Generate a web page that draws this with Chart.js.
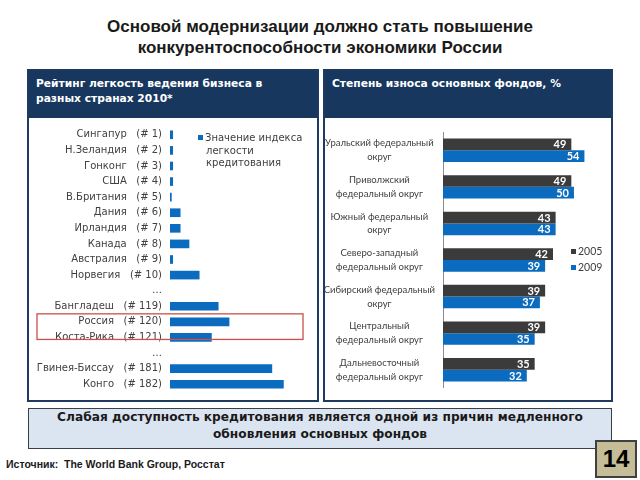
<!DOCTYPE html>
<html>
<head>
<meta charset="utf-8">
<script src="https://cdn.jsdelivr.net/npm/chart.js@4.4.0/dist/chart.umd.min.js"></script>
<style>
body{margin:0;width:640px;height:480px;position:relative;background:#fff;overflow:hidden;font-family:"Liberation Sans",Arial,sans-serif}
.abs{position:absolute;box-sizing:border-box}
#title{left:0;top:16px;width:640px;text-align:center;font-weight:bold;font-size:17px;line-height:21px;color:#1a1a1a}
.panel{top:69px;height:333px;border:2px solid #1f3a60;background:#fff}
.head{left:0;top:0;right:0;height:47px;background:#17375e;color:#fff;font:bold 10.7px "DejaVu Sans";line-height:15px;padding:5px 0 0 7px}
#bottom{left:28px;top:408px;width:584px;height:41px;background:#dbe5f1;border:1.5px solid #3a3f4a;text-align:center;font:bold 12.2px "DejaVu Sans";line-height:17px;color:#1a1a1a}
#src{left:6px;top:458px;font-weight:bold;font-size:10.5px;color:#1a1a1a}
#page{left:595px;top:440px;width:42px;height:38px;background:#c4bd97;border:2px solid #404040;font:bold 24px "Liberation Sans";text-align:center;line-height:34px;color:#000}
.leg{font:10px "DejaVu Sans";color:#404040;line-height:12.5px}
.mk{display:inline-block;width:5px;height:5px;margin-right:2px;vertical-align:1px}
canvas{position:absolute}
</style>
</head>
<body>
<div id="title" class="abs">Основой модернизации должно стать повышение<br>конкурентоспособности экономики России</div>

<div class="abs panel" style="left:27px;width:292px"><div class="abs head">Рейтинг легкость ведения бизнеса в<br>разных странах 2010*</div></div>
<div class="abs panel" style="left:323px;width:290px"><div class="abs head">Степень износа основных фондов, %</div></div>

<canvas id="left" width="286" height="265" style="left:30px;top:127px"></canvas>
<canvas id="right" width="283" height="256" style="left:325px;top:132px"></canvas>

<div class="abs leg" style="left:198px;top:132px;width:110px"><span class="mk" style="background:#0b6cbf;margin-left:0"></span>Значение индекса<br><span style="padding-left:8px">легкости</span><br><span style="padding-left:8px">кредитования</span></div>
<div class="abs leg" style="left:571px;top:243px;font-family:Lato;font-size:10.5px;line-height:16px"><span class="mk" style="background:#3b3b3b"></span>2005<br><span class="mk" style="background:#0b6cbf"></span>2009</div>

<div id="bottom" class="abs">Слабая доступность кредитования является одной из причин медленного<br>обновления основных фондов</div>
<div id="src" class="abs">Источник:&nbsp; The World Bank Group, Росстат</div>
<div id="page" class="abs">14</div>

<script>
// left chart: ease of doing business rank and credit index value
var countries = ["Сингапур", "Н.Зеландия", "Гонконг", "США", "В.Британия", "Дания", "Ирландия", "Канада", "Австралия", "Норвегия", "…", "Бангладеш", "Россия", "Коста-Рика", "…", "Гвинея-Биссау", "Конго"];
var ranks = [1, 2, 3, 4, 5, 6, 7, 8, 9, 10, null, 119, 120, 121, null, 181, 182];
var creditValues = [4, 4, 4, 4, 2, 15, 15, 28, 4, 43, null, 71, 87, 61, null, 150, 167];

// right chart: depreciation of fixed assets by federal district, %
var districts = [
    ["Уральский федеральный", "округ"],
    ["Приволжский", "федеральный округ"],
    ["Южный федеральный", "округ"],
    ["Северо-западный", "федеральный округ"],
    ["Сибирский федеральный", "округ"],
    ["Центральный", "федеральный округ"],
    ["Дальневосточный", "федеральный округ"]
];
var wear2005 = [49, 49, 43, 42, 39, 39, 35];
var wear2009 = [54, 50, 43, 39, 37, 35, 32];

var blue = "#0b6cbf";
var dark = "#3b3b3b";

var leftLabels = countries.map(function (c, i) {
    return ranks[i] === null ? c : c + "   (# " + ranks[i] + ")";
});

// y axis with fixed width and no label overhang padding
function fixedAxis(w) {
    return function (s) {
        s.width = w;
        s.paddingTop = 0;
        s.paddingBottom = 0;
    };
}

// red frame around Russia
var redBox = {
    id: "redBox",
    afterDraw: function (chart) {
        var y = chart.scales.y;
        var top = y.getPixelForValue(12) - 8;
        var bottom = y.getPixelForValue(13) + 2;
        var ctx = chart.ctx;
        ctx.save();
        ctx.strokeStyle = "#c9504b";
        ctx.lineWidth = 1.3;
        ctx.strokeRect(7, top, 266, bottom - top);
        ctx.restore();
    }
};

new Chart(document.getElementById("left").getContext("2d"), {
    type: "bar",
    data: {
        labels: leftLabels,
        datasets: [{
            label: "Значение индекса легкости кредитования",
            data: creditValues,
            backgroundColor: blue,
            barThickness: 8
        }]
    },
    options: {
        indexAxis: "y",
        responsive: false,
        animation: false,
        layout: { padding: 0 },
        plugins: { legend: { display: false }, tooltip: { enabled: false } },
        scales: {
            x: { display: false, min: 0, max: 215 },
            y: {
                afterFit: fixedAxis(140),
                grid: { display: false, drawTicks: false },
                border: { display: false },
                ticks: { padding: 8, autoSkip: false, color: "#404040", font: { family: "DejaVu Sans", size: 10 } }
            }
        }
    },
    plugins: [redBox]
});

var valueLabels = {
    id: "valueLabels",
    afterDatasetsDraw: function (chart) {
        var ctx = chart.ctx;
        ctx.save();
        ctx.fillStyle = "#fff";
        ctx.font = "bold 11px Lato";
        ctx.textAlign = "right";
        ctx.textBaseline = "middle";
        chart.data.datasets.forEach(function (ds, di) {
            chart.getDatasetMeta(di).data.forEach(function (bar, i) {
                ctx.fillText(ds.data[i], bar.x - 5, bar.y + 0.5);
            });
        });
        ctx.restore();
    }
};

new Chart(document.getElementById("right").getContext("2d"), {
    type: "bar",
    data: {
        labels: districts,
        datasets: [
            { label: "2005", data: wear2005, backgroundColor: dark },
            { label: "2009", data: wear2009, backgroundColor: blue }
        ]
    },
    options: {
        indexAxis: "y",
        responsive: false,
        animation: false,
        layout: { padding: 0 },
        datasets: { bar: { categoryPercentage: 0.64, barPercentage: 1 } },
        plugins: { legend: { display: false }, tooltip: { enabled: false } },
        scales: {
            x: { display: false, min: 0, max: 63 },
            y: {
                afterFit: fixedAxis(118),
                grid: { display: false, drawTicks: false },
                border: { display: true, color: "#8c8c8c", width: 1 },
                ticks: { padding: 8, autoSkip: false, crossAlign: "center", color: "#404040", font: { family: "Lato", size: 9.5, lineHeight: 1.47 } }
            }
        }
    },
    plugins: [valueLabels]
});
</script>
</body>
</html>
